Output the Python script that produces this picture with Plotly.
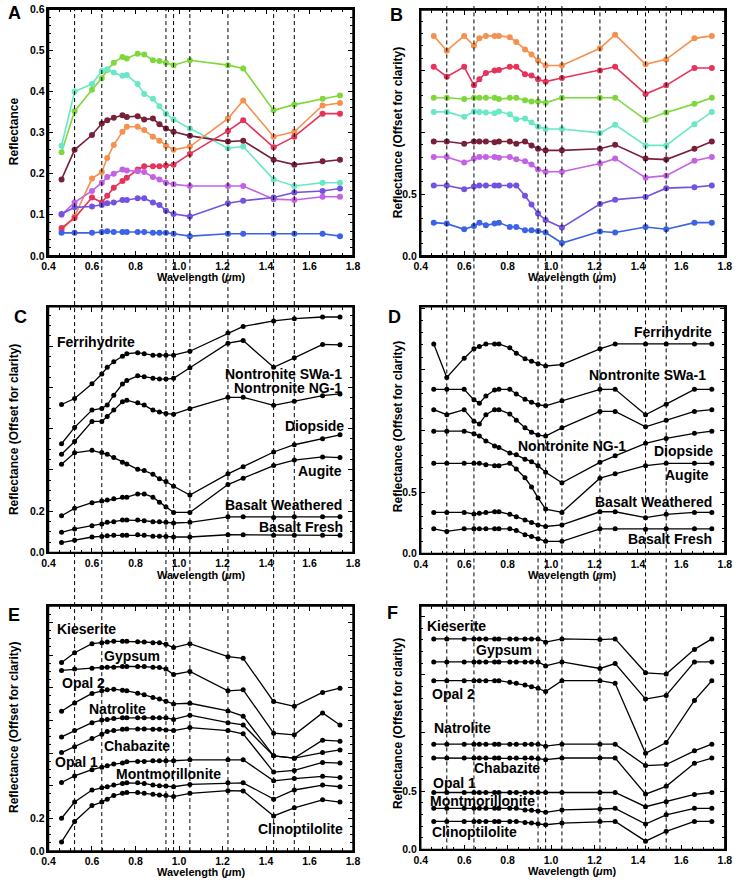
import plotly.graph_objects as go

W, H = 740, 886
FONT = "Liberation Sans, Arial, sans-serif"

# Wavelengths (um)
wl = [0.46, 0.52, 0.60, 0.645, 0.67, 0.70, 0.74, 0.76, 0.81, 0.84, 0.88, 0.91,
      0.94, 0.975, 1.05, 1.225, 1.295, 1.435, 1.53, 1.66, 1.74]
band_lines = [0.52, 0.645, 0.94, 0.975, 1.05, 1.225, 1.435, 1.53]
x_ticks = [0.4, 0.6, 0.8, 1.0, 1.2, 1.4, 1.6, 1.8]

# Panel A (reflectance)
A_green = [0.252, 0.352, 0.404, 0.432, 0.452, 0.470, 0.484, 0.480, 0.492, 0.490, 0.476, 0.474, 0.470, 0.464, 0.476, 0.464, 0.456, 0.354, 0.368, 0.382, 0.390]
A_cyan = [0.268, 0.400, 0.418, 0.450, 0.454, 0.446, 0.438, 0.440, 0.418, 0.394, 0.382, 0.364, 0.346, 0.332, 0.310, 0.262, 0.266, 0.186, 0.170, 0.178, 0.178]
A_maroon = [0.186, 0.258, 0.294, 0.322, 0.330, 0.336, 0.342, 0.338, 0.340, 0.332, 0.334, 0.320, 0.310, 0.302, 0.292, 0.278, 0.280, 0.234, 0.222, 0.230, 0.234]
A_orange = [0.062, 0.096, 0.188, 0.204, 0.238, 0.270, 0.302, 0.314, 0.314, 0.306, 0.290, 0.280, 0.268, 0.258, 0.266, 0.334, 0.378, 0.290, 0.302, 0.366, 0.372]
A_red = [0.068, 0.092, 0.142, 0.130, 0.146, 0.166, 0.182, 0.190, 0.210, 0.218, 0.218, 0.218, 0.220, 0.222, 0.248, 0.304, 0.330, 0.264, 0.290, 0.346, 0.346]
A_orchid = [0.100, 0.130, 0.158, 0.178, 0.192, 0.200, 0.210, 0.208, 0.206, 0.204, 0.192, 0.186, 0.178, 0.174, 0.170, 0.170, 0.170, 0.138, 0.136, 0.144, 0.144]
A_violet = [0.102, 0.118, 0.120, 0.124, 0.128, 0.130, 0.136, 0.136, 0.140, 0.140, 0.130, 0.124, 0.110, 0.102, 0.096, 0.128, 0.134, 0.142, 0.154, 0.158, 0.164]
A_blue = [0.056, 0.056, 0.056, 0.058, 0.060, 0.058, 0.058, 0.058, 0.058, 0.058, 0.056, 0.056, 0.056, 0.054, 0.048, 0.054, 0.054, 0.054, 0.054, 0.054, 0.048]

# Panel B (offset)
B_orange = [1.78, 1.66, 1.78, 1.70, 1.76, 1.78, 1.78, 1.78, 1.77, 1.73, 1.67, 1.63, 1.58, 1.54, 1.54, 1.68, 1.79, 1.55, 1.59, 1.76, 1.78]
B_red = [1.53, 1.45, 1.53, 1.38, 1.43, 1.48, 1.50, 1.505, 1.53, 1.53, 1.47, 1.46, 1.43, 1.41, 1.44, 1.50, 1.53, 1.31, 1.38, 1.52, 1.52]
B_green = [1.28, 1.28, 1.27, 1.28, 1.28, 1.28, 1.28, 1.27, 1.28, 1.28, 1.26, 1.25, 1.25, 1.24, 1.28, 1.28, 1.28, 1.10, 1.16, 1.23, 1.28]
B_cyan = [1.165, 1.165, 1.125, 1.168, 1.165, 1.16, 1.154, 1.168, 1.146, 1.106, 1.112, 1.08, 1.045, 1.027, 1.027, 0.995, 1.061, 0.894, 0.894, 1.066, 1.165]
B_maroon = [0.926, 0.926, 0.907, 0.926, 0.926, 0.926, 0.920, 0.926, 0.926, 0.907, 0.926, 0.894, 0.867, 0.854, 0.854, 0.867, 0.899, 0.787, 0.779, 0.867, 0.926]
B_orchid = [0.80, 0.80, 0.755, 0.787, 0.80, 0.80, 0.80, 0.795, 0.80, 0.782, 0.766, 0.739, 0.699, 0.681, 0.681, 0.747, 0.787, 0.633, 0.649, 0.769, 0.80]
B_violet = [0.569, 0.569, 0.54, 0.561, 0.569, 0.569, 0.569, 0.569, 0.569, 0.569, 0.487, 0.415, 0.343, 0.29, 0.229, 0.42, 0.455, 0.476, 0.548, 0.556, 0.569]
B_blue = [0.269, 0.261, 0.215, 0.242, 0.269, 0.247, 0.261, 0.269, 0.234, 0.234, 0.207, 0.207, 0.202, 0.189, 0.104, 0.197, 0.189, 0.234, 0.215, 0.269, 0.269]

# Panel C (offset)
C_ferri = [0.717, 0.746, 0.817, 0.865, 0.897, 0.924, 0.951, 0.963, 0.968, 0.963, 0.956, 0.956, 0.956, 0.956, 0.975, 1.063, 1.095, 1.122, 1.133, 1.141, 1.141]
C_nswa = [0.527, 0.606, 0.690, 0.698, 0.714, 0.762, 0.816, 0.833, 0.856, 0.852, 0.844, 0.841, 0.840, 0.844, 0.895, 1.014, 1.027, 0.897, 0.943, 1.008, 1.006]
C_nng = [0.476, 0.538, 0.635, 0.635, 0.659, 0.690, 0.730, 0.738, 0.725, 0.714, 0.690, 0.681, 0.673, 0.670, 0.697, 0.752, 0.752, 0.713, 0.733, 0.760, 0.768]
C_diop = [0.427, 0.483, 0.495, 0.484, 0.476, 0.460, 0.437, 0.429, 0.403, 0.397, 0.379, 0.357, 0.344, 0.321, 0.278, 0.381, 0.416, 0.487, 0.522, 0.551, 0.570]
C_aug = [0.178, 0.214, 0.241, 0.249, 0.254, 0.260, 0.268, 0.268, 0.284, 0.284, 0.268, 0.244, 0.221, 0.194, 0.194, 0.329, 0.360, 0.421, 0.448, 0.463, 0.460]
C_bw = [0.098, 0.114, 0.130, 0.138, 0.146, 0.149, 0.157, 0.157, 0.157, 0.154, 0.149, 0.149, 0.146, 0.143, 0.146, 0.173, 0.173, 0.170, 0.173, 0.173, 0.173]
C_bf = [0.048, 0.059, 0.075, 0.078, 0.081, 0.083, 0.083, 0.083, 0.086, 0.083, 0.079, 0.079, 0.078, 0.075, 0.075, 0.086, 0.086, 0.083, 0.083, 0.083, 0.083]

# Panel D (continuum removed, offset)
D_ferri = [1.708, 1.434, 1.592, 1.668, 1.686, 1.708, 1.708, 1.708, 1.676, 1.633, 1.587, 1.566, 1.547, 1.528, 1.539, 1.668, 1.708, 1.708, 1.708, 1.708, 1.708]
D_nswa = [1.338, 1.338, 1.338, 1.252, 1.225, 1.284, 1.332, 1.338, 1.338, 1.300, 1.257, 1.233, 1.212, 1.204, 1.244, 1.338, 1.338, 1.131, 1.217, 1.338, 1.338]
D_nng = [1.172, 1.131, 1.172, 1.078, 1.056, 1.131, 1.172, 1.172, 1.137, 1.086, 1.024, 0.989, 0.965, 0.957, 1.024, 1.158, 1.158, 1.032, 1.086, 1.158, 1.172]
D_diop = [0.997, 0.997, 0.997, 0.976, 0.957, 0.917, 0.877, 0.863, 0.818, 0.804, 0.769, 0.748, 0.716, 0.662, 0.576, 0.743, 0.796, 0.898, 0.938, 0.979, 0.997]
D_aug = [0.735, 0.735, 0.735, 0.735, 0.735, 0.724, 0.716, 0.716, 0.735, 0.689, 0.617, 0.542, 0.453, 0.362, 0.335, 0.614, 0.649, 0.716, 0.735, 0.735, 0.735]
D_bw = [0.335, 0.335, 0.335, 0.322, 0.327, 0.335, 0.340, 0.340, 0.319, 0.300, 0.273, 0.252, 0.233, 0.220, 0.233, 0.340, 0.340, 0.292, 0.319, 0.335, 0.335]
D_bf = [0.201, 0.180, 0.201, 0.201, 0.201, 0.201, 0.201, 0.201, 0.201, 0.188, 0.153, 0.139, 0.121, 0.099, 0.099, 0.201, 0.201, 0.198, 0.201, 0.201, 0.201]

# Panel E (offset)
E_kies = [1.154, 1.214, 1.270, 1.276, 1.280, 1.284, 1.284, 1.284, 1.282, 1.280, 1.276, 1.276, 1.266, 1.246, 1.270, 1.190, 1.180, 0.915, 0.886, 0.971, 0.997]
E_gyp = [1.106, 1.114, 1.120, 1.124, 1.126, 1.126, 1.130, 1.130, 1.130, 1.130, 1.126, 1.124, 1.114, 1.081, 1.100, 0.981, 0.987, 0.722, 0.712, 0.846, 0.772]
E_opal2 = [0.856, 0.907, 0.965, 0.981, 0.987, 0.991, 0.985, 0.981, 0.967, 0.957, 0.941, 0.931, 0.917, 0.901, 0.905, 0.858, 0.826, 0.583, 0.569, 0.679, 0.673]
E_natro = [0.699, 0.738, 0.786, 0.802, 0.806, 0.812, 0.816, 0.816, 0.816, 0.816, 0.816, 0.816, 0.816, 0.806, 0.832, 0.786, 0.772, 0.583, 0.569, 0.603, 0.619]
E_chab = [0.603, 0.639, 0.689, 0.716, 0.732, 0.738, 0.746, 0.748, 0.748, 0.748, 0.746, 0.746, 0.742, 0.738, 0.756, 0.738, 0.718, 0.484, 0.494, 0.543, 0.539]
E_opal1 = [0.420, 0.460, 0.498, 0.513, 0.523, 0.533, 0.539, 0.547, 0.549, 0.549, 0.553, 0.553, 0.553, 0.553, 0.559, 0.559, 0.559, 0.430, 0.444, 0.458, 0.450]
E_mont = [0.201, 0.300, 0.374, 0.388, 0.394, 0.404, 0.414, 0.418, 0.418, 0.414, 0.404, 0.400, 0.398, 0.394, 0.408, 0.418, 0.418, 0.318, 0.374, 0.404, 0.394]
E_clino = [0.056, 0.181, 0.279, 0.300, 0.318, 0.340, 0.354, 0.358, 0.358, 0.354, 0.348, 0.344, 0.340, 0.334, 0.354, 0.370, 0.368, 0.215, 0.265, 0.314, 0.300]

# Panel F (continuum removed, offset)
F_kies = [1.808, 1.808, 1.808, 1.808, 1.808, 1.808, 1.808, 1.808, 1.808, 1.808, 1.808, 1.808, 1.808, 1.780, 1.808, 1.802, 1.808, 1.517, 1.506, 1.718, 1.808]
F_gyp = [1.610, 1.610, 1.610, 1.610, 1.610, 1.610, 1.610, 1.610, 1.610, 1.610, 1.610, 1.610, 1.610, 1.576, 1.610, 1.554, 1.596, 1.291, 1.322, 1.610, 1.610]
F_opal2 = [1.449, 1.449, 1.449, 1.449, 1.449, 1.449, 1.449, 1.449, 1.435, 1.427, 1.412, 1.398, 1.384, 1.356, 1.449, 1.449, 1.427, 0.825, 0.918, 1.280, 1.449]
F_natro = [0.904, 0.904, 0.904, 0.904, 0.904, 0.904, 0.904, 0.904, 0.904, 0.904, 0.904, 0.904, 0.904, 0.887, 0.904, 0.904, 0.904, 0.720, 0.729, 0.847, 0.904]
F_chab = [0.785, 0.785, 0.785, 0.785, 0.785, 0.785, 0.785, 0.785, 0.785, 0.785, 0.785, 0.785, 0.780, 0.771, 0.785, 0.785, 0.785, 0.475, 0.542, 0.740, 0.785]
F_opal1 = [0.489, 0.489, 0.489, 0.489, 0.489, 0.489, 0.489, 0.489, 0.489, 0.489, 0.489, 0.489, 0.489, 0.489, 0.489, 0.489, 0.489, 0.367, 0.410, 0.472, 0.489]
F_mont = [0.353, 0.353, 0.353, 0.353, 0.353, 0.353, 0.353, 0.353, 0.353, 0.353, 0.339, 0.336, 0.331, 0.319, 0.339, 0.347, 0.353, 0.218, 0.297, 0.353, 0.353]
F_clino = [0.240, 0.240, 0.240, 0.240, 0.240, 0.240, 0.240, 0.240, 0.240, 0.240, 0.232, 0.226, 0.220, 0.212, 0.226, 0.240, 0.240, 0.071, 0.155, 0.240, 0.240]

colors = {"green": "#7ED83C", "cyan": "#68E8C4", "maroon": "#78203A", "orange": "#F5904E",
          "red": "#E6335A", "orchid": "#C462E6", "violet": "#7452E0", "blue": "#3C62E6"}

A_series = [("green", A_green), ("cyan", A_cyan), ("maroon", A_maroon), ("orange", A_orange),
            ("red", A_red), ("orchid", A_orchid), ("violet", A_violet), ("blue", A_blue)]
B_series = [("green", B_green), ("cyan", B_cyan), ("maroon", B_maroon), ("orange", B_orange),
            ("red", B_red), ("orchid", B_orchid), ("violet", B_violet), ("blue", B_blue)]
C_series = [C_ferri, C_nswa, C_nng, C_diop, C_aug, C_bw, C_bf]
D_series = [D_ferri, D_nswa, D_nng, D_diop, D_aug, D_bw, D_bf]
E_series = [E_kies, E_gyp, E_opal2, E_natro, E_chab, E_opal1, E_mont, E_clino]
F_series = [F_kies, F_gyp, F_opal2, F_natro, F_chab, F_opal1, F_mont, F_clino]

# panel frames in pixels (left, right, top, bottom)
frames = {
    1: (42.3, 352.7, 3.3, 253.3),
    2: (421.7, 731.7, 4.0, 253.3),
    3: (42.3, 352.7, 305.0, 554.0),
    4: (421.7, 731.7, 305.0, 555.0),
    5: (42.3, 352.7, 608.3, 856.7),
    6: (421.7, 731.7, 608.3, 855.0),
}

def px(x):
    return x / W

def py(y):
    return 1 - y / H

fig = go.Figure()

def add_line(idx, ys, color, msize, lw):
    sfx = "" if idx == 1 else str(idx)
    fig.add_trace(go.Scatter(x=wl, y=ys, mode="lines+markers", xaxis="x" + sfx, yaxis="y" + sfx,
                             line=dict(color=color, width=lw), marker=dict(color=color, size=msize),
                             showlegend=False, hoverinfo="skip"))

for name, ys in A_series:
    add_line(1, ys, colors[name], 6, 1.6)
for name, ys in B_series:
    add_line(2, ys, colors[name], 6, 1.6)
for ys in C_series:
    add_line(3, ys, "black", 5, 1.3)
for ys in D_series:
    add_line(4, ys, "black", 5, 1.3)
for ys in E_series:
    add_line(5, ys, "black", 5, 1.3)
for ys in F_series:
    add_line(6, ys, "black", 5, 1.3)

tickfont = dict(family=FONT, size=10.5, color="black", weight="bold")

def xaxis(idx):
    l, r, t, b = frames[idx]
    ya = "y" if idx == 1 else "y" + str(idx)
    return dict(domain=[px(l), px(r)], anchor=ya, range=[0.4, 1.8],
                tickvals=x_ticks, ticktext=["%.1f" % v for v in x_ticks],
                showline=True, linecolor="black", linewidth=1.5, mirror="ticks",
                ticks="inside", ticklen=5, tickwidth=1.2, tickcolor="black",
                minor=dict(ticks="inside", ticklen=3, tickwidth=1, tickcolor="black", dtick=0.05, tick0=0.4),
                showgrid=False, zeroline=False, tickfont=tickfont, fixedrange=True,
                ticklabeloverflow="allow")

def yaxis(idx, rng, tvals, ttext, mdt):
    l, r, t, b = frames[idx]
    xa = "x" if idx == 1 else "x" + str(idx)
    return dict(domain=[py(b), py(t)], anchor=xa, range=rng, tickvals=tvals, ticktext=ttext,
                showline=True, linecolor="black", linewidth=1.5, mirror="ticks",
                ticks="inside", ticklen=5, tickwidth=1.2, tickcolor="black",
                minor=dict(ticks="inside", ticklen=3, tickwidth=1, tickcolor="black", dtick=mdt, tick0=0),
                showgrid=False, zeroline=False, tickfont=tickfont, fixedrange=True,
                ticklabeloverflow="allow")

A_yt = [0.0, 0.1, 0.2, 0.3, 0.4, 0.5, 0.6]
off5 = [0.0, 0.5, 1.0, 1.5, 2.0]
off2 = [0.0, 0.2, 0.4, 0.6, 0.8, 1.0, 1.2, 1.4]
lab5 = ["0.0", "0.5", "", "", ""]
lab2 = ["0.0", "0.2", "", "", "", "", "", ""]

layout = dict(width=W, height=H, autosize=False, margin=dict(l=0, r=0, t=0, b=0),
              paper_bgcolor="white", plot_bgcolor="white", showlegend=False)
for i in range(1, 7):
    layout["xaxis" if i == 1 else "xaxis%d" % i] = xaxis(i)
layout["yaxis"] = yaxis(1, [0, 0.6], A_yt, ["%.1f" % v for v in A_yt], 0.02)
layout["yaxis2"] = yaxis(2, [0, 1.99], off5, lab5, 0.1)
layout["yaxis3"] = yaxis(3, [0, 1.19], off2, lab2, 0.05)
layout["yaxis4"] = yaxis(4, [0, 2.01], off5, lab5, 0.1)
layout["yaxis5"] = yaxis(5, [0, 1.5], off2, lab2, 0.05)
layout["yaxis6"] = yaxis(6, [0, 2.09], off5, lab5, 0.1)
fig.update_layout(**layout)

shapes = []
# panel frames
for i, (l, r, t, b) in frames.items():
    shapes.append(dict(type="rect", xref="paper", yref="paper", x0=px(l), x1=px(r), y0=py(b), y1=py(t),
                       line=dict(color="black", width=1.5), fillcolor="rgba(0,0,0,0)", layer="above"))
# dashed band lines spanning each column
for xa, bottom in (("x", frames[5][3]), ("x2", frames[6][3])):
    for b in band_lines:
        shapes.append(dict(type="line", xref=xa, yref="paper", x0=b, x1=b, y0=py(bottom), y1=1.0,
                           line=dict(color="black", width=1, dash="4px,3px"), layer="above"))
fig.update_layout(shapes=shapes)

ann = []

def text(x, y, s, size=14, anchor="left", angle=0):
    ann.append(dict(x=px(x), y=py(y), xref="paper", yref="paper", text=s, showarrow=False,
                    xanchor=anchor, yanchor="middle", textangle=angle, borderpad=0,
                    font=dict(family=FONT, size=size, color="black", weight="bold")))

# panel letters
for s, x, y in (("A", 8, 7.5), ("B", 397, 9), ("C", 14, 315), ("D", 395, 315), ("E", 7, 617.5), ("F", 392.5, 615)):
    text(x, y, s, size=18, anchor="center")

# axis titles
for x, y in ((197.5, 275), (576, 275), (197.5, 576.5), (576, 577), (197.5, 878), (576, 877)):
    text(x, y, "Wavelength (<i>\u03bc</i>m)", size=11, anchor="center")
text(7, 127, "Reflectance", size=12, anchor="center", angle=-90)
for x, y in ((398.5, 128), (7, 429), (398.5, 426), (7, 731), (398.5, 727)):
    text(x, y, "Reflectance (Offset for clarity)", size=12, anchor="center", angle=-90)

# mineral labels
C_labels = [("Ferrihydrite", 50, 341, "left"), ("Nontronite SWa-1", 342, 373, "right"),
            ("Nontronite NG-1", 342, 387.5, "right"), ("Diopside", 345, 426, "right"),
            ("Augite", 342, 471, "right"), ("Basalt Weathered", 342, 506, "right"),
            ("Basalt Fresh", 343, 528.5, "right")]
D_labels = [("Ferrihydrite", 720, 330, "right"), ("Nontronite SWa-1", 713, 374, "right"),
            ("Nontronite NG-1", 520, 446, "left"), ("Diopside", 721, 451, "right"),
            ("Augite", 717, 475, "right"), ("Basalt Weathered", 720, 503, "right"),
            ("Basalt Fresh", 720, 540, "right")]
E_labels = [("Kieserite", 50, 632, "left"), ("Gypsum", 98, 659, "left"), ("Opal 2", 55, 686, "left"),
            ("Natrolite", 83, 713, "left"), ("Chabazite", 98, 750, "left"), ("Opal 1", 47.5, 766, "left"),
            ("Montmorillonite", 110, 779, "left"), ("Clinoptilolite", 343, 834, "right")]
F_labels = [("Kieserite", 427, 629, "left"), ("Gypsum", 477, 653, "left"), ("Opal 2", 432, 697, "left"),
            ("Natrolite", 434, 732, "left"), ("Chabazite", 475, 772, "left"), ("Opal 1", 433, 788, "left"),
            ("Montmorillonite", 430, 806, "left"), ("Clinoptilolite", 432, 837, "left")]
for group in (C_labels, D_labels, E_labels, F_labels):
    for s, x, y, a in group:
        text(x, y, s, size=14, anchor=a)

fig.update_layout(annotations=ann)
fig.write_html("out.html", config={"displayModeBar": False},
               post_script="document.body.style.margin='0px';document.body.style.overflow='hidden';")
